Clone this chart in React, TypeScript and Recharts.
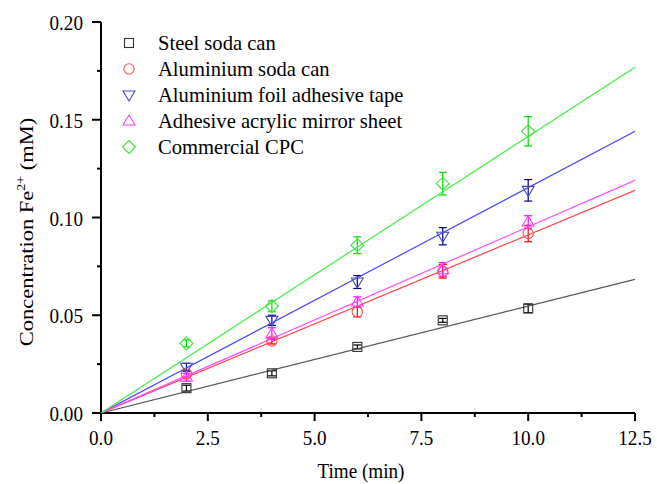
import React from 'react'
import { ComposedChart, Scatter, ErrorBar, XAxis, YAxis } from 'recharts'

const times = [2, 4, 6, 8, 10]

const steel = [0.0127, 0.0203, 0.0338, 0.0474, 0.0535]
const steelErr = [0.0015, 0.0013, 0.001, 0.001, 0.0022]
const alCan = [0.0200, 0.0368, 0.0517, 0.0725, 0.0918]
const alCanErr = [0.0015, 0.0015, 0.0025, 0.0035, 0.0042]
const foil = [0.0234, 0.0474, 0.067, 0.0904, 0.1139]
const foilErr = [0.002, 0.0026, 0.0033, 0.0044, 0.0055]
const mirror = [0.0183, 0.0406, 0.0568, 0.0733, 0.0977]
const mirrorErr = [0.002, 0.003, 0.0026, 0.0036, 0.0032]
const cpc = [0.0356, 0.0546, 0.0858, 0.1173, 0.1441]
const cpcErr = [0.0018, 0.0028, 0.0043, 0.0058, 0.0075]

// fitted line value at t = 12.5 min (lines pass through origin)
const fitEnd = [0.0684, 0.1139, 0.1441, 0.119, 0.1768]

const seriesNames = [
  'Steel soda can',
  'Aluminium soda can',
  'Aluminium foil adhesive tape',
  'Adhesive acrylic mirror sheet',
  'Commercial CPC',
]

const xTicks = [0, 1.25, 2.5, 3.75, 5, 6.25, 7.5, 8.75, 10, 11.25, 12.5]
const yTicks = [0, 0.025, 0.05, 0.075, 0.1, 0.125, 0.15, 0.175, 0.2]

const FONT = '"Liberation Serif", "Times New Roman", serif'
const SQ = 0.87 // the original text is a bit narrow

type Kind = 'square' | 'circle' | 'down' | 'up' | 'diamond'

const styles: { kind: Kind; marker: string; line: string; err: string }[] = [
  { kind: 'square', marker: '#333333', line: '#555555', err: '#000000' },
  { kind: 'circle', marker: '#ff5050', line: '#ff4444', err: '#ff0000' },
  { kind: 'down', marker: '#4848c0', line: '#4c4cff', err: '#000088' },
  { kind: 'up', marker: '#ff40ff', line: '#ff4cff', err: '#ff00ff' },
  { kind: 'diamond', marker: '#40e040', line: '#44ee44', err: '#00dd00' },
]

const values = [steel, alCan, foil, mirror, cpc]
const errors = [steelErr, alCanErr, foilErr, mirrorErr, cpcErr]

function Marker({ kind, cx, cy, color }: { kind: Kind; cx: number; cy: number; color: string }) {
  const p = { fill: 'none', stroke: color, strokeWidth: 1.1 }
  switch (kind) {
    case 'square':
      return <rect x={cx - 4.5} y={cy - 4.5} width={9} height={9} {...p} />
    case 'circle':
      return <circle cx={cx} cy={cy} r={5.2} {...p} />
    case 'down':
      return <polygon points={`${cx - 6},${cy - 4} ${cx + 6},${cy - 4} ${cx},${cy + 6}`} {...p} />
    case 'up':
      return <polygon points={`${cx - 6},${cy + 4} ${cx + 6},${cy + 4} ${cx},${cy - 6}`} {...p} />
    default:
      return <polygon points={`${cx},${cy - 6.5} ${cx + 6.5},${cy} ${cx},${cy + 6.5} ${cx - 6.5},${cy}`} {...p} />
  }
}

// eslint-disable-next-line @typescript-eslint/no-explicit-any
function XTick({ x, y, payload, index }: any) {
  const major = index % 2 === 0
  return (
    <g>
      <line x1={x} x2={x} y1={y} y2={y + (major ? 8 : 4)} stroke="#000" strokeWidth={2} />
      {major && (
        <text
          transform={`translate(${x},${y + 32}) scale(${SQ},1)`}
          textAnchor="middle"
          fontFamily={FONT}
          fontSize={22}
          fill="#000"
        >
          {Number(payload.value).toFixed(1)}
        </text>
      )}
    </g>
  )
}

// eslint-disable-next-line @typescript-eslint/no-explicit-any
function YTick({ x, y, payload, index }: any) {
  const major = index % 2 === 0
  return (
    <g>
      <line x1={x} x2={x - (major ? 9 : 4)} y1={y} y2={y} stroke="#000" strokeWidth={2} />
      {major && (
        <text
          transform={`translate(${x - 18},${y + 8}) scale(${SQ},1)`}
          textAnchor="end"
          fontFamily={FONT}
          fontSize={22}
          fill="#000"
        >
          {Number(payload.value).toFixed(2)}
        </text>
      )}
    </g>
  )
}

function Legend() {
  return (
    <div
      style={{
        position: 'absolute',
        left: 121,
        top: 30,
        fontFamily: FONT,
        fontSize: 20.6,
        color: '#000',
        lineHeight: '26px',
      }}
    >
      {seriesNames.map((name, i) => (
        <div key={name} style={{ display: 'flex', alignItems: 'center', height: 26 }}>
          <svg width={20} height={20} style={{ marginRight: 17 }}>
            <Marker kind={styles[i].kind} cx={8} cy={10} color={styles[i].marker} />
          </svg>
          <span>{name}</span>
        </div>
      ))}
    </div>
  )
}

export default function App() {
  return (
    <div style={{ position: 'absolute', left: 0, top: 0, width: 657, height: 484, background: '#fff' }}>
      <ComposedChart width={657} height={484} margin={{ top: 22, right: 22, bottom: 0, left: 0 }}>
        <XAxis
          dataKey="x"
          type="number"
          domain={[0, 12.5]}
          ticks={xTicks}
          interval={0}
          height={71}
          tickSize={0}
          tickMargin={0}
          tickLine={false}
          tick={<XTick />}
          axisLine={{ stroke: '#000', strokeWidth: 2 }}
          allowDataOverflow
          label={{
            content: () => (
              <text
                transform={`translate(361,478) scale(${SQ},1)`}
                textAnchor="middle"
                fontFamily={FONT}
                fontSize={22}
                fill="#000"
              >
                Time (min)
              </text>
            ),
          }}
        />
        <XAxis
          xAxisId="top"
          orientation="top"
          type="number"
          domain={[0, 12.5]}
          height={0}
          tick={false}
          tickLine={false}
          axisLine={{ stroke: '#000', strokeWidth: 2 }}
        />
        <YAxis
          dataKey="y"
          type="number"
          domain={[0, 0.2]}
          ticks={yTicks}
          interval={0}
          width={101}
          tickSize={0}
          tickMargin={0}
          tickLine={false}
          tick={<YTick />}
          axisLine={{ stroke: '#000', strokeWidth: 2 }}
          allowDataOverflow
          label={{
            content: () => (
              <text
                transform={`translate(33,232) scale(${SQ},1) rotate(-90)`}
                textAnchor="middle"
                fontFamily={FONT}
                fontSize={22.5}
                fill="#000"
              >
                Concentration Fe
                <tspan fontSize={14} dy={-9}>2+</tspan>
                <tspan dy={9}> (mM)</tspan>
              </text>
            ),
          }}
        />
        <YAxis
          yAxisId="right"
          orientation="right"
          type="number"
          domain={[0, 0.2]}
          width={0}
          tick={false}
          tickLine={false}
          axisLine={{ stroke: '#000', strokeWidth: 2 }}
        />

        {fitEnd.map((end, i) => (
          <Scatter
            key={'fit' + i}
            data={[
              { x: 0, y: 0 },
              { x: 12.5, y: end },
            ]}
            line={{ stroke: styles[i].line, strokeWidth: 1.2 }}
            lineType="joint"
            shape={() => <g />}
            isAnimationActive={false}
          />
        ))}

        {values.map((vals, i) => (
          <Scatter
            key={'pts' + i}
            data={times.map((t, j) => ({ x: t, y: vals[j], err: errors[i][j] }))}
            // eslint-disable-next-line @typescript-eslint/no-explicit-any
            shape={(p: any) => <Marker kind={styles[i].kind} cx={p.cx} cy={p.cy} color={styles[i].marker} />}
            isAnimationActive={false}
          >
            <ErrorBar dataKey="err" direction="y" width={4} stroke={styles[i].err} strokeWidth={1.2} isAnimationActive={false} />
          </Scatter>
        ))}
      </ComposedChart>
      <Legend />
    </div>
  )
}
